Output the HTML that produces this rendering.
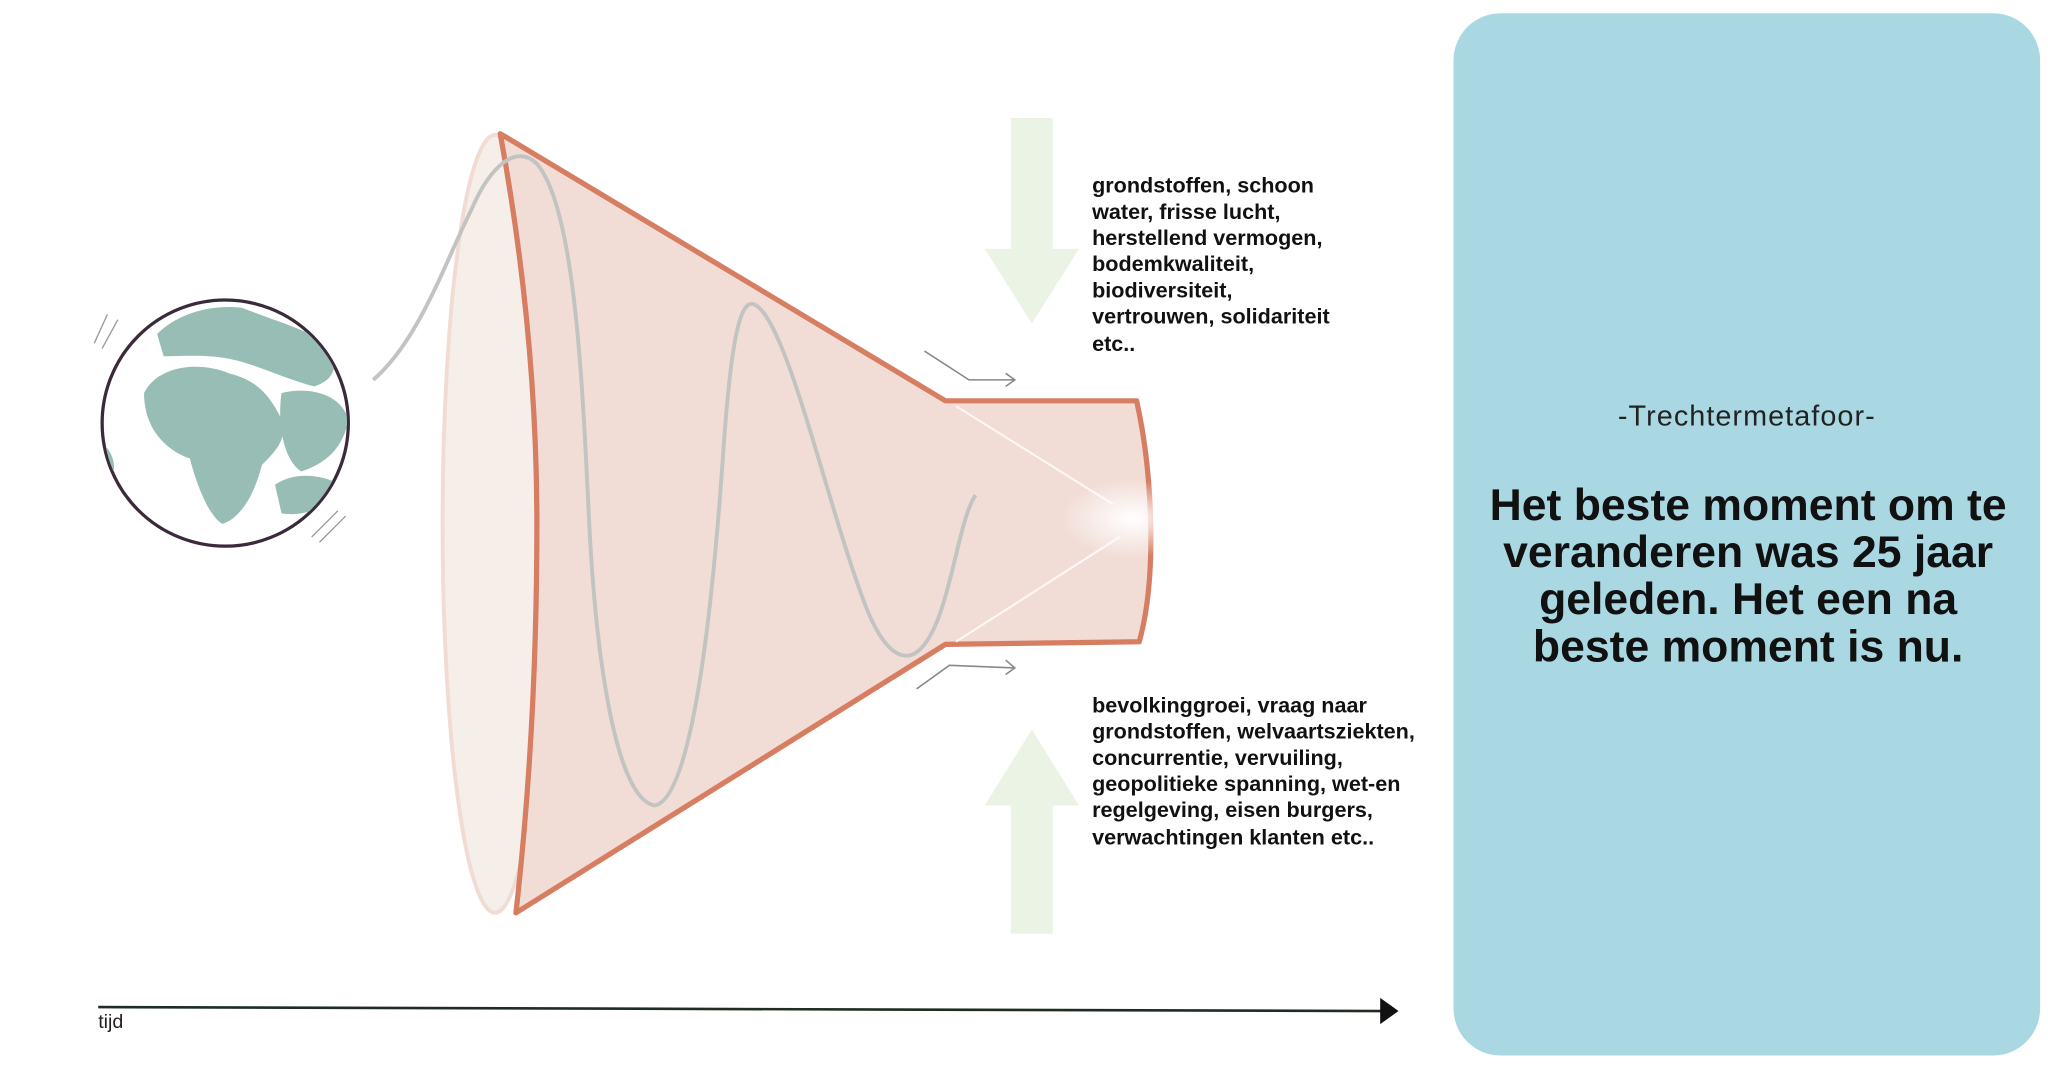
<!DOCTYPE html>
<html><head><meta charset="utf-8"><style>
html,body{margin:0;padding:0;background:#fff;}
svg{display:block}
text{font-family:"Liberation Sans",sans-serif;}
</style></head><body>
<svg width="2048" height="1074" viewBox="0 0 1564 820" xmlns="http://www.w3.org/2000/svg">
<rect x="0" y="0" width="1564" height="820" fill="#fff"/>
<rect x="1110" y="10" width="448" height="796" rx="36" fill="#a9d8e3"/>
<text x="1334" y="325" text-anchor="middle" font-size="22" fill="#222" letter-spacing="0.8">-Trechtermetafoor-</text>
<g font-size="34" font-weight="bold" fill="#111" text-anchor="middle">
<text x="1335" y="397">Het beste moment om te</text>
<text x="1335" y="433">veranderen was 25 jaar</text>
<text x="1335" y="469">geleden. Het een na</text>
<text x="1335" y="505">beste moment is nu.</text>
</g>
<g fill="#ebf3e5">
<rect x="772" y="90" width="32" height="100"/>
<polygon points="752,190 824,190 788,247"/>
<polygon points="752,615 824,615 788,557"/>
<rect x="772" y="615" width="32" height="98"/>
</g>
<circle cx="172" cy="323" r="94" fill="#fff" stroke="#3a2a3a" stroke-width="2.5"/>
<clipPath id="gc"><circle cx="172" cy="323" r="93"/></clipPath>
<g clip-path="url(#gc)" fill="#97bdb5">
<path d="M110,300 C120,280 150,275 175,285 C195,290 205,300 215,320 C220,335 210,345 200,355 C195,375 185,395 170,400 C160,395 150,370 145,350 C130,345 110,330 110,300Z"/>
<path d="M120,255 C135,240 160,232 185,235 C210,245 230,250 250,262 C260,280 255,290 240,295 C220,290 200,280 180,275 C160,270 140,272 125,272Z"/>
<path d="M215,300 C235,295 260,300 266,320 C262,345 245,355 230,360 C215,350 212,320 215,300Z"/>
<path d="M210,370 C225,360 245,362 260,370 C255,385 235,395 215,392Z"/>
<path d="M80,340 C85,345 90,355 85,365 L78,360Z"/>
</g>
<g stroke="#999" stroke-width="1" fill="none">
<path d="M72,262 L82,240 M78,266 L90,244"/>
<path d="M238,410 L258,390 M244,414 L264,394"/>
</g>
<ellipse cx="378" cy="400" rx="40" ry="297" fill="#f6efe9" stroke="#f0dcd3" stroke-width="3"/>
<path d="M382,102 L722,306 L868,306 C880,360 884,440 870,490 L722,492 L394,697 C405,600 410,500 410,400 C410,300 400,200 382,102Z" fill="#f2ddd6"/>
<path d="M382,102 L722,306 L868,306 C880,360 884,440 870,490 L722,492 L394,697 C405,600 410,500 410,400 C410,300 400,200 382,102Z" fill="none" stroke="#d67d62" stroke-width="4" stroke-linejoin="round"/>
<path d="M285,290 C320,260 340,200 360,160 C375,125 395,110 410,125 C440,160 445,300 450,400 C455,500 470,610 500,615 C530,610 545,450 552,350 C558,260 565,230 575,232 C600,240 630,380 660,460 C675,500 690,505 700,498 C725,480 730,400 745,378" fill="none" stroke="#c3c4c1" stroke-width="3"/>
<radialGradient id="gl"><stop offset="0" stop-color="#fff" stop-opacity="1"/><stop offset="1" stop-color="#fff" stop-opacity="0"/></radialGradient>
<ellipse cx="865" cy="396" rx="55" ry="30" fill="url(#gl)"/>
<line x1="730" y1="310" x2="850" y2="385" stroke="#fff" stroke-width="1.5" opacity="0.8"/>
<line x1="730" y1="490" x2="855" y2="410" stroke="#fff" stroke-width="1.5" opacity="0.8"/>
<g stroke="#888" stroke-width="1.2" fill="none">
<path d="M706,268 L740,290 L775,290 M768,285 L775,290 L768,295"/>
<path d="M700,526 L725,508 L775,510 M768,504 L775,510 L768,515"/>
</g>
<g font-size="16.5" font-weight="bold" fill="#111">
<text x="834" y="147">grondstoffen, schoon</text>
<text x="834" y="167">water, frisse lucht,</text>
<text x="834" y="187">herstellend vermogen,</text>
<text x="834" y="207">bodemkwaliteit,</text>
<text x="834" y="227">biodiversiteit,</text>
<text x="834" y="247">vertrouwen, solidariteit</text>
<text x="834" y="268">etc..</text>
<text x="834" y="544">bevolkinggroei, vraag naar</text>
<text x="834" y="564">grondstoffen, welvaartsziekten,</text>
<text x="834" y="584">concurrentie, vervuiling,</text>
<text x="834" y="604">geopolitieke spanning, wet-en</text>
<text x="834" y="624">regelgeving, eisen burgers,</text>
<text x="834" y="645">verwachtingen klanten etc..</text>
</g>
<line x1="75" y1="769" x2="1056" y2="772" stroke="#1e2e22" stroke-width="2"/>
<polygon points="1054,762 1068,772 1054,782" fill="#111"/>
<text x="75" y="785" font-size="15" fill="#222">tijd</text>
</svg>
</body></html>
